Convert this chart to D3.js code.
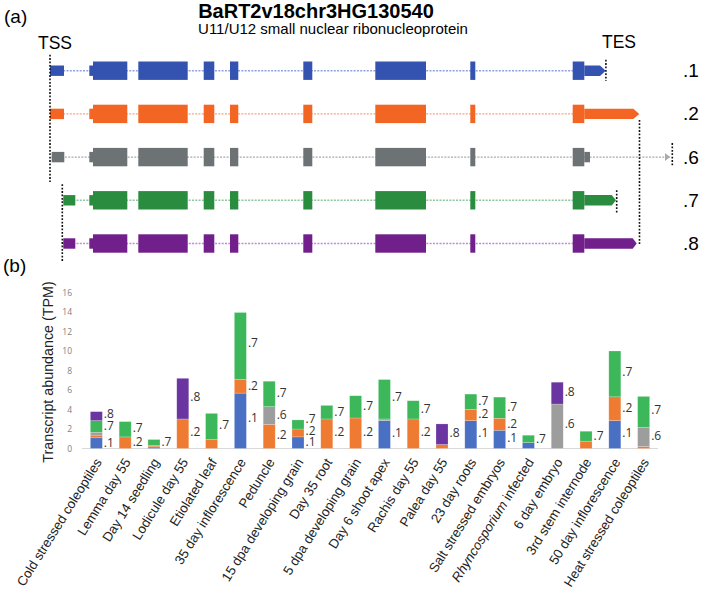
<!DOCTYPE html>
<html><head><meta charset="utf-8">
<script src="https://cdn.jsdelivr.net/npm/d3@7"></script>
<style>body{margin:0;background:#fff}svg{display:block}</style>
</head><body>
<svg id="c" width="709" height="598"></svg>
<script>
// ---------- data ----------
const categories = ["Cold stressed coleoptiles","Lemma day 55","Day 14 seedling","Lodicule day 55","Etiolated leaf","35 day inflorescence","Peduncle","15 dpa developing grain","Day 35 root","5 dpa developing grain","Day 6 shoot apex","Rachis day 55","Palea day 55","23 day roots","Salt stressed embryos","Rhyncosporium infected","6 day embryo","3rd stem internode","50 day inflorescence","Heat stressed coleoptiles"];
const isoforms = [".1",".2",".6",".7",".8"];
const t1 = [1.1,0,0.15,0,0,5.68,0,1.19,0,0,2.86,0,0,2.86,1.87,0.61,0,0,2.86,0];
const t2 = [0.27,1.19,0.1,3.03,0.92,1.42,2.48,0.81,3.03,3.13,0,3.03,0.41,1.15,1.23,0,0,0.75,2.44,0.2];
const t6 = [0.3,0,0.05,0,0,0,1.81,0,0,0,0.17,0,0,0,0,0,4.56,0,0,1.98];
const t7 = [1.19,1.57,0.62,0,2.68,6.85,2.61,0.93,1.39,2.28,4.04,1.87,0,1.57,2.17,0.75,0,1.02,4.7,3.16];
const t8 = [0.92,0,0,4.17,0,0,0,0,0,0,0,0,2.11,0,0,0,2.24,0,0,0];
const labelSets = [[".1",".7",".8"],[".2",".7"],[".7"],[".2",".8"],[".7"],[".1",".2",".7"],[".2",".6",".7"],[".1",".2",".7"],[".2",".7"],[".2",".7"],[".1",".7"],[".2",".7"],[".8"],[".1",".2",".7"],[".1",".2",".7"],[".7"],[".6",".8"],[".7"],[".1",".2",".7"],[".6",".7"]];
const yTicks = [0,2,4,6,8,10,12,14,16];
// gene model (relative genomic units)
const sharedExons = [[39.3,43,"u"],[43,77.3,"c"],[88.3,137.7,"c"],[153.7,164.3,"c"],[180,188.3,"c"],[253.3,262.3,"c"],[325.3,376,"c"],[420.3,425.3,"c"],[522.7,534.3,"c"]];
const firstExon = [[0,14],[0,14],[1.7,14.3],[13.3,25.3],[13.3,25.3]];
const lastUTR = [[534.3,550,555.7],[534.3,583.3,589.3],[534.3,540,null],[534.3,561.7,566],[534.3,582.7,586.7]];
const intronEnd = [550,583.3,620,561.7,582.7];

// ---------- styles ----------
const barColors = {".1":"#4a70c4",".2":"#ef7a32",".6":"#9d9d9d",".7":"#3cb75a",".8":"#6a35a0"};
const geneColors = ["#3453b0","#f26522","#6d7275","#2a8c3f","#711f8a"];
const intronColors = ["#8ea2df","#f7a283","#a8aaab","#8cc89a","#bf8bd2"];
const svg = d3.select("#c");
const F = "'Liberation Sans', Arial, sans-serif";

// ---------- panel a ----------
svg.append("text").attr("x",4).attr("y",23).attr("font-family",F).attr("font-size",19).text("(a)");
svg.append("text").attr("x",316).attr("y",18).attr("text-anchor","middle").attr("font-family",F)
  .attr("font-size",20).attr("font-weight","bold").text("BaRT2v18chr3HG130540");
svg.append("text").attr("x",333).attr("y",34).attr("text-anchor","middle").attr("font-family",F)
  .attr("font-size",15).text("U11/U12 small nuclear ribonucleoprotein");
svg.append("text").attr("x",38).attr("y",49).attr("font-family",F).attr("font-size",17.5).text("TSS");
svg.append("text").attr("x",602).attr("y",48).attr("font-family",F).attr("font-size",17.5).text("TES");

const gx = d3.scaleLinear().domain([0,622.3]).range([50,672.3]);
const gy = d3.scalePoint().domain(isoforms).range([70.7,243.5]);
const H = 9.2, h = 5.2;
isoforms.forEach((iso,i)=>{
  const cy = gy(iso), g = svg.append("g");
  g.append("line").attr("x1",gx(firstExon[i][0])).attr("x2",gx(intronEnd[i])).attr("y1",cy).attr("y2",cy)
    .attr("stroke",intronColors[i]).attr("stroke-width",1.4).attr("stroke-dasharray","2,1.3");
  g.append("rect").attr("x",gx(firstExon[i][0])).attr("width",gx(firstExon[i][1])-gx(firstExon[i][0]))
    .attr("y",cy-h).attr("height",2*h).attr("fill",geneColors[i]);
  sharedExons.forEach(e=>{
    const hh = e[2]==="c"?H:h;
    g.append("rect").attr("x",gx(e[0])).attr("width",gx(e[1])-gx(e[0])).attr("y",cy-hh).attr("height",2*hh).attr("fill",geneColors[i]);
  });
  const u = lastUTR[i];
  if(u[2]!==null){
    g.append("path").attr("fill",geneColors[i]).attr("d",
      `M${gx(u[0])},${cy-h}L${gx(u[1])},${cy-h}L${gx(u[2])},${cy}L${gx(u[1])},${cy+h}L${gx(u[0])},${cy+h}Z`);
  } else {
    g.append("rect").attr("x",gx(u[0])).attr("width",gx(u[1])-gx(u[0])).attr("y",cy-h).attr("height",2*h).attr("fill",geneColors[i]);
    g.append("path").attr("fill",intronColors[i]).attr("d",
      `M${gx(intronEnd[i])-5},${cy-4}L${gx(intronEnd[i])},${cy}L${gx(intronEnd[i])-5},${cy+4}Z`);
  }
  svg.append("text").attr("x",683).attr("y",cy+6.5).attr("font-family",F).attr("font-size",19).text(iso);
});
// TSS / TES dotted markers
const markers = [
  [0, gy(".1")-16, gy(".6")+25],
  [12.3, gy(".7")-16, gy(".8")+19],
  [555.9, gy(".1")-11, gy(".1")+10],
  [589.5, gy(".2")+6, gy(".8")+1],
  [566.7, gy(".7")-10, gy(".7")+13],
  [622.3, gy(".6")-14, gy(".6")+10]
];
markers.forEach(m=>{
  svg.append("line").attr("x1",gx(m[0])).attr("x2",gx(m[0])).attr("y1",m[1]).attr("y2",m[2])
    .attr("stroke","#111").attr("stroke-width",1.6).attr("stroke-dasharray","1.8,1.6");
});

// ---------- panel b ----------
svg.append("text").attr("x",3).attr("y",272).attr("font-family",F).attr("font-size",19).text("(b)");
const x = d3.scaleBand().domain(categories).range([82,658]).paddingInner(0.583).paddingOuter(0.29);
const y = d3.scaleLinear().domain([0,16]).range([448.5,292.5]);
const series = {".1":t1,".2":t2,".6":t6,".7":t7,".8":t8};
const stack = d3.stack().keys(isoforms)(categories.map((c,i)=>{const o={cat:c};isoforms.forEach(k=>o[k]=series[k][i]);return o;}));

svg.append("line").attr("x1",82).attr("x2",658).attr("y1",y(0)).attr("y2",y(0)).attr("stroke","#d9d9d9").attr("stroke-width",1);
yTicks.forEach(t=>{
  svg.append("text").attr("x",72).attr("y",y(t)+3).attr("text-anchor","end").attr("font-family","'Open Sans',sans-serif")
    .attr("font-size",8.5).attr("fill","#808080").text(t);
});
svg.append("text").attr("transform","translate(53,372) rotate(-90)").attr("text-anchor","middle")
  .attr("font-family",F).attr("font-size",14.3).attr("fill","#222").text("Transcript abundance (TPM)");

stack.forEach(s=>{
  svg.append("g").selectAll("rect").data(s).join("rect")
    .attr("x",d=>x(d.data.cat)).attr("width",x.bandwidth())
    .attr("y",d=>y(d[1])).attr("height",d=>y(d[0])-y(d[1]))
    .attr("fill",barColors[s.key]).attr("stroke","#ffffff").attr("stroke-opacity",0.35).attr("stroke-width",0.6);
});
// bar labels
categories.forEach((c,i)=>{
  const labs = labelSets[i].map(k=>{
    const seg = stack[isoforms.indexOf(k)][i];
    return {k, y: y(seg[0]) - 0.55*(y(seg[0])-y(seg[1]))};
  }).sort((a,b)=>b.y-a.y);
  labs[0].y = Math.min(labs[0].y, y(0)-6);
  for(let j=1;j<labs.length;j++){ if(labs[j-1].y-labs[j].y<11.5) labs[j].y = labs[j-1].y-11.5; }
  labs.forEach(l=>{
    svg.append("text").attr("x",x(c)+x.bandwidth()+1.5).attr("y",l.y+4)
      .attr("font-family","'Open Sans',sans-serif").attr("font-size",12).attr("fill","#333").text(l.k);
  });
});
// x labels
categories.forEach(c=>{
  const t = svg.append("text").attr("transform",`translate(${x(c)+x.bandwidth()/2+6},${462}) rotate(-58)`)
    .attr("text-anchor","end").attr("font-family",F).attr("font-size",13.3).attr("fill","#222");
  if(c.startsWith("Rhyncosporium")){
    t.append("tspan").attr("font-style","italic").text("Rhyncosporium");
    t.append("tspan").text(" infected");
  } else t.text(c);
});
</script>
</body></html>
